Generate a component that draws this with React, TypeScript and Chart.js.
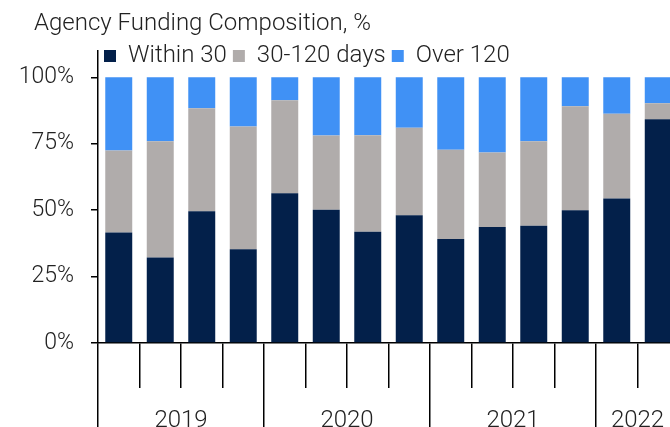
import React, { useEffect, useRef } from 'react';
import { Chart, registerables } from 'chart.js';

Chart.register(...registerables);

const quarters = ['1Q19', '2Q19', '3Q19', '4Q19', '1Q20', '2Q20', '3Q20', '4Q20', '1Q21', '2Q21', '3Q21', '4Q21', '1Q22', '2Q22'];
const within30 = [41.6, 32.2, 49.6, 35.3, 56.4, 50.1, 41.9, 48.1, 39.1, 43.7, 44.1, 50.0, 54.4, 84.2];
const days30to120 = [30.8, 43.7, 38.7, 46.2, 35.0, 28.0, 36.3, 32.9, 33.6, 28.0, 31.8, 39.1, 31.9, 6.0];
const over120 = [27.6, 24.1, 11.7, 18.5, 8.6, 21.9, 21.8, 19.0, 27.3, 28.3, 24.1, 10.9, 13.7, 9.8];
const years = ['2019', '2020', '2021', '2022'];
const yearStarts = [0, 4, 8, 12];
const yTicks = [0, 25, 50, 75, 100];

const FONT = 'Roboto, "Noto Sans", sans-serif';
const TEXT = '#222222';

// nudges title to the right and lets the legend row overlap the top of the axis line
const layoutTweaks = {
  id: 'layoutTweaks',
  afterLayout(chart: any) {
    const t = chart.titleBlock;
    if (t) { t.left += 17; t.right += 17; }
    const lg = chart.legend;
    if (lg) { lg.bottom = lg.top + 40; lg.height = 40; }
  },
};

export default function App() {
  const ref = useRef<HTMLCanvasElement | null>(null);

  useEffect(() => {
    if (!ref.current) return;

    const boundaries: number[] = yearStarts.map((i) => i - 0.5).concat([quarters.length - 0.5]);
    const centers = new Map<number, string>();
    yearStarts.forEach((s, k) => {
      const end = k + 1 < yearStarts.length ? yearStarts[k + 1] : quarters.length;
      centers.set((s + end) / 2 - 0.5, years[k]);
    });
    const x2Ticks = boundaries.concat(Array.from(centers.keys())).sort((a, b) => a - b);
    const boundarySet = new Set(boundaries);

    const chart = new Chart(ref.current, {
      type: 'bar',
      plugins: [layoutTweaks],
      data: {
        labels: quarters,
        datasets: [
          { label: 'Within 30', data: within30, backgroundColor: '#03204A', xAxisID: 'x', yAxisID: 'y', borderWidth: 0 },
          { label: '30-120 days', data: days30to120, backgroundColor: '#B0ACAB', xAxisID: 'x', yAxisID: 'y', borderWidth: 0 },
          { label: 'Over 120', data: over120, backgroundColor: '#4091F5', xAxisID: 'x', yAxisID: 'y', borderWidth: 0 },
        ],
      },
      options: {
        responsive: false,
        animation: false,
        layout: { padding: { left: 17, right: 1, top: 0, bottom: 0 } },
        datasets: { bar: { barPercentage: 0.65, categoryPercentage: 1 } },
        plugins: {
          tooltip: { enabled: false },
          title: {
            display: true,
            text: 'Agency Funding Composition, %',
            align: 'start',
            color: TEXT,
            font: { family: FONT, size: 24, weight: '300' as any },
            padding: { top: 9.2, bottom: 0 },
          },
          legend: {
            display: true,
            position: 'top',
            align: 'start',
            fullSize: false,
            maxHeight: 12.7,
            labels: {
              boxWidth: 12,
              boxHeight: 12,
              padding: 6,
              color: TEXT,
              font: { family: FONT, size: 24, weight: '300' as any },
            },
          },
        },
        scales: {
          x: {
            type: 'category',
            stacked: true,
            position: 'bottom',
            weight: 0,
            offset: true,
            afterFit: (s: any) => { s.height = 45; },
            border: { display: true, color: '#000', width: 1.5 },
            grid: { offset: true, drawOnChartArea: false, drawTicks: true, tickLength: 45, color: '#000', lineWidth: 1.5 },
            ticks: { display: false, autoSkip: false },
          },
          x2: {
            type: 'linear',
            position: 'bottom',
            weight: 1,
            offset: false,
            min: -0.5,
            max: quarters.length - 0.5,
            afterBuildTicks: (s: any) => { s.ticks = x2Ticks.map((v) => ({ value: v })); },
            afterFit: (s: any) => { s.height = 39; },
            border: { display: false },
            grid: {
              offset: false,
              drawOnChartArea: false,
              drawTicks: true,
              tickLength: 39,
              lineWidth: 1.5,
              color: (ctx: any) => (ctx.tick && boundarySet.has(ctx.tick.value) ? '#000' : 'rgba(0,0,0,0)'),
            },
            ticks: {
              autoSkip: false,
              maxRotation: 0,
              padding: -20,
              color: TEXT,
              font: { family: FONT, size: 24, weight: '300' as any },
              callback: (v: any) => centers.get(Number(v)) ?? '',
            },
          },
          y: {
            type: 'linear',
            stacked: true,
            min: 0,
            max: 110,
            afterBuildTicks: (s: any) => { s.ticks = yTicks.map((v) => ({ value: v })); },
            afterFit: (s: any) => { s.width = 81; },
            border: { display: true, color: '#000', width: 1.5 },
            grid: { drawOnChartArea: false, drawTicks: true, tickLength: 7, color: '#000', lineWidth: 1.5 },
            ticks: {
              padding: 17,
              color: TEXT,
              font: { family: FONT, size: 23, weight: '300' as any },
              callback: (v: any) => `${v}%`,
            },
          },
        },
      },
    });

    return () => chart.destroy();
  }, []);

  return (
    <div style={{ position: 'fixed', left: 0, top: 0, width: 670, height: 427, overflow: 'hidden', background: '#fff' }}>
      <canvas ref={ref} width={680} height={427} style={{ display: 'block', width: 680, height: 427 }} />
    </div>
  );
}
